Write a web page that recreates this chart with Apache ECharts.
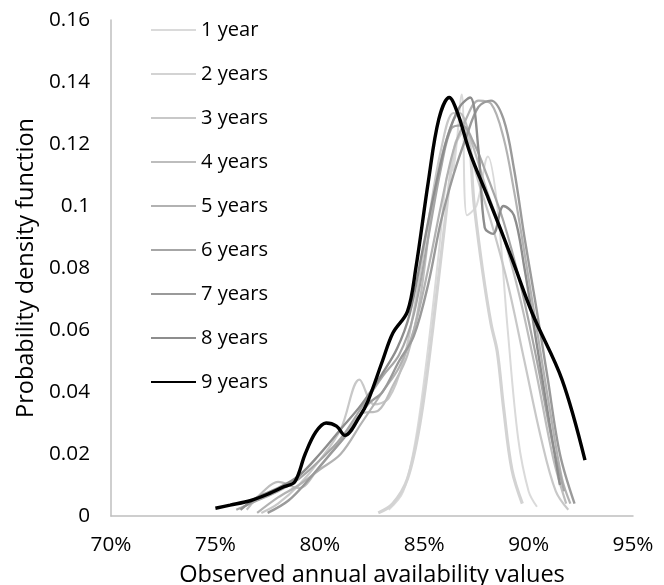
<!DOCTYPE html>
<html>
<head>
<meta charset="utf-8">
<script src="https://cdn.jsdelivr.net/npm/echarts@6/dist/echarts.min.js"></script>
<style>
html,body{margin:0;padding:0;background:#fff;}
#chart{width:664px;height:585px;}
</style>
</head>
<body>
<div id="chart"></div>
<script>
// Data
const seriesNames = ['1 year','2 years','3 years','4 years','5 years','6 years','7 years','8 years','9 years'];
const xTicks = [70, 75, 80, 85, 90, 95];

const x1 = [83.3, 84.0, 84.6, 85.2, 85.7, 86.1, 86.4, 86.8, 87.05, 87.5, 88.05, 88.5, 89.0, 89.5, 90.0, 90.4];
const y1 = [0.002, 0.008, 0.025, 0.055, 0.085, 0.11, 0.112, 0.136, 0.097, 0.1, 0.116, 0.1, 0.06, 0.025, 0.008, 0.003];

const x2 = [82.8, 83.5, 84.2, 84.8, 85.4, 86.0, 86.5, 87.0, 87.4, 87.8, 88.2, 88.5, 88.8, 89.2, 89.7];
const y2 = [0.001, 0.004, 0.012, 0.03, 0.06, 0.095, 0.12, 0.125, 0.1, 0.079, 0.062, 0.053, 0.035, 0.015, 0.004];

const x3 = [77.2, 78.0, 79.0, 80.0, 81.0, 81.9, 82.6, 83.3, 84.0, 84.6, 85.2, 85.8, 86.4, 86.9, 87.5, 88.2, 89.0, 89.8, 90.6, 91.3, 91.9];
const y3 = [0.001, 0.004, 0.01, 0.018, 0.028, 0.044, 0.036, 0.038, 0.05, 0.07, 0.095, 0.118, 0.13, 0.126, 0.11, 0.095, 0.075, 0.05, 0.025, 0.008, 0.002];

const x4 = [76.5, 77.3, 78.0, 79.0, 80.0, 81.0, 82.0, 82.8, 83.5, 84.2, 84.8, 85.4, 86.0, 86.7, 87.3, 88.0, 88.8, 89.6, 90.4, 91.2, 91.8];
const y4 = [0.002, 0.008, 0.011, 0.009, 0.016, 0.024, 0.033, 0.034, 0.042, 0.052, 0.07, 0.1, 0.12, 0.13, 0.12, 0.105, 0.09, 0.07, 0.045, 0.018, 0.004];

const x5 = [77.0, 78.0, 79.0, 80.0, 81.0, 82.0, 83.0, 83.8, 84.5, 85.2, 85.8, 86.4, 87.0, 87.6, 88.2, 88.8, 89.3, 89.8, 90.4, 91.0, 91.6, 92.0];
const y5 = [0.001, 0.006, 0.01, 0.015, 0.02, 0.03, 0.04, 0.048, 0.06, 0.08, 0.1, 0.118, 0.128, 0.134, 0.133, 0.122, 0.105, 0.085, 0.06, 0.035, 0.012, 0.004];

const x6 = [76.0, 77.0, 78.0, 79.0, 80.0, 81.0, 82.0, 83.0, 83.8, 84.5, 85.2, 85.8, 86.3, 86.8, 87.4, 88.0, 88.8, 89.6, 90.4, 91.1, 91.7];
const y6 = [0.002, 0.005, 0.008, 0.012, 0.018, 0.025, 0.035, 0.045, 0.052, 0.065, 0.09, 0.112, 0.125, 0.126, 0.12, 0.11, 0.095, 0.075, 0.05, 0.025, 0.008];

const x7 = [77.5, 78.5, 79.5, 80.5, 81.5, 82.3, 83.0, 83.8, 84.5, 85.2, 85.8, 86.4, 87.0, 87.6, 88.2, 88.8, 89.3, 89.8, 90.3, 90.9, 91.5, 92.2];
const y7 = [0.001, 0.005, 0.012, 0.02, 0.028, 0.036, 0.04, 0.05, 0.058, 0.075, 0.095, 0.11, 0.122, 0.132, 0.134, 0.128, 0.112, 0.09, 0.07, 0.045, 0.02, 0.004];

const x8 = [76.2, 77.0, 78.0, 79.0, 80.0, 81.0, 82.0, 83.0, 83.7, 84.3, 84.9, 85.5, 86.1, 86.7, 87.2, 87.6, 87.9, 88.3, 88.8, 89.3, 89.8, 90.4, 91.0, 91.5];
const y8 = [0.002, 0.006, 0.009, 0.013, 0.02, 0.028, 0.036, 0.046, 0.054, 0.065, 0.085, 0.105, 0.122, 0.132, 0.135, 0.118, 0.093, 0.091, 0.1, 0.097, 0.08, 0.055, 0.03, 0.01];

const x9 = [75.0, 75.7, 76.7, 77.5, 78.3, 78.8, 79.3, 79.8, 80.3, 80.8, 81.2, 81.9, 82.3, 83.0, 83.5, 84.2, 84.6, 85.2, 85.7, 86.2, 86.6, 87.2, 88.1, 89.2, 90.2, 91.6, 92.7];
const y9 = [0.0025, 0.0035, 0.005, 0.007, 0.0095, 0.011, 0.02, 0.027, 0.03, 0.029, 0.026, 0.032, 0.037, 0.05, 0.059, 0.066, 0.08, 0.108, 0.128, 0.135, 0.13, 0.117, 0.102, 0.083, 0.065, 0.044, 0.018];

const xs = [x1, x2, x3, x4, x5, x6, x7, x8, x9];
const ys = [y1, y2, y3, y4, y5, y6, y7, y8, y9];

const colors = ['#dadada', '#d3d3d3', '#c8c8c8', '#bdbdbd', '#b2b2b2', '#a6a6a6', '#9a9a9a', '#8d8d8d', '#000000'];
const widths = [2, 3.2, 2.2, 2.2, 2.2, 2.2, 2.4, 2.4, 3.4];

const FONT = 'Open Sans';

// fit a font size so that a text reaches a target width
const mctx = document.createElement('canvas').getContext('2d');
function fitSize(text, target) {
  mctx.font = '100px "' + FONT + '"';
  return 100 * target / mctx.measureText(text).width;
}
const xTitleSize = fitSize('Observed annual availability values', 386);
const yTitleSize = fitSize('Probability density function', 300);
const tickSize = fitSize('0.16', 41);
const legendSize = fitSize('2 years', 67);

const chart = echarts.init(document.getElementById('chart'), null, {renderer: 'canvas'});

const series = seriesNames.map((name, i) => ({
  name: name,
  type: 'line',
  smooth: 0.35,
  symbol: 'none',
  z: 2 + i,
  lineStyle: {color: colors[i], width: widths[i]},
  itemStyle: {color: colors[i]},
  data: xs[i].map((v, j) => [v, ys[i][j]])
}));

chart.setOption({
  animation: false,
  backgroundColor: '#ffffff',
  textStyle: {fontFamily: FONT},
  grid: {left: 111, right: 31, top: 20, bottom: 69, containLabel: false, outerBoundsMode: 'none'},
  legend: {
    orient: 'vertical',
    left: 145,
    top: 15,
    itemWidth: 45,
    itemHeight: 20,
    itemGap: 24,
    itemStyle: {opacity: 0},
    data: seriesNames,
    textStyle: {fontFamily: FONT, fontSize: legendSize, color: '#000', lineHeight: 20}
  },
  xAxis: {
    type: 'value',
    min: 70, max: 95, interval: 5,
    name: 'Observed annual availability values',
    nameLocation: 'middle',
    nameGap: 47,
    nameTextStyle: {fontFamily: FONT, fontSize: xTitleSize, color: '#000'},
    axisLine: {show: true, lineStyle: {color: '#bfbfbf', width: 1.5}},
    axisTick: {show: false},
    splitLine: {show: false},
    axisLabel: {formatter: '{value}%', fontFamily: FONT, fontSize: tickSize, color: '#000', margin: 19}
  },
  yAxis: {
    type: 'value',
    min: 0, max: 0.16, interval: 0.02,
    name: 'Probability density function',
    nameLocation: 'middle',
    nameGap: 70,
    nameTextStyle: {fontFamily: FONT, fontSize: yTitleSize, color: '#000'},
    axisLine: {show: true, lineStyle: {color: '#bfbfbf', width: 1.5}},
    axisTick: {show: false},
    splitLine: {show: false},
    axisLabel: {fontFamily: FONT, fontSize: tickSize, color: '#000', margin: 21}
  },
  series: series
});
</script>
</body>
</html>
